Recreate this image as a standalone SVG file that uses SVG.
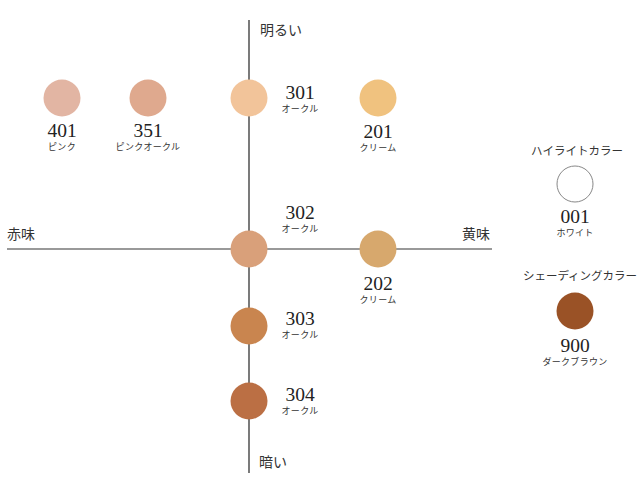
<svg xmlns="http://www.w3.org/2000/svg" width="640" height="498" viewBox="0 0 640 498">
<style>
.num{font-family:"Liberation Serif","Noto Sans CJK JP",serif;font-size:19.5px;fill:#222;text-anchor:middle}
.sub{font-family:"Noto Sans CJK JP",sans-serif;font-size:9px;fill:#333;text-anchor:middle;letter-spacing:0.3px}
.ax{font-family:"Noto Sans CJK JP",sans-serif;font-size:14px;fill:#333}
.hd{font-family:"Noto Sans CJK JP",sans-serif;font-size:11.5px;fill:#333;text-anchor:middle}
</style>
<rect width="640" height="498" fill="#fff"/>
<g id="axes">
<line x1="7" y1="249" x2="492" y2="249" stroke="#777" stroke-width="1.5"/>
<line x1="249" y1="20" x2="249" y2="473" stroke="#333" stroke-width="1.3"/>
<text class="ax" x="260" y="35">明るい</text>
<text class="ax" x="259" y="467">暗い</text>
<text class="ax" x="7" y="239">赤味</text>
<text class="ax" x="462" y="239">黄味</text>
</g>
<g id="c401"><circle cx="62" cy="98" r="18.5" fill="#e2b5a3"/><text class="num" x="62" y="137">401</text><text class="sub" x="62" y="150">ピンク</text></g>
<g id="c351"><circle cx="148" cy="98" r="18.5" fill="#dfa98e"/><text class="num" x="148" y="137">351</text><text class="sub" x="148" y="150">ピンクオークル</text></g>
<g id="c301"><circle cx="249" cy="98" r="18.5" fill="#f2c49a"/><text class="num" x="300" y="99">301</text><text class="sub" x="300" y="112">オークル</text></g>
<g id="c201"><circle cx="378" cy="98" r="18.5" fill="#f0c27f"/><text class="num" x="378" y="138">201</text><text class="sub" x="378" y="151">クリーム</text></g>
<g id="c302"><circle cx="249" cy="249" r="18.5" fill="#d9a07a"/><text class="num" x="300" y="219">302</text><text class="sub" x="300" y="232">オークル</text></g>
<g id="c202"><circle cx="378" cy="249" r="18.5" fill="#d7a86d"/><text class="num" x="378" y="290">202</text><text class="sub" x="378" y="303">クリーム</text></g>
<g id="c303"><circle cx="249" cy="326" r="18.5" fill="#c9854f"/><text class="num" x="300" y="325">303</text><text class="sub" x="300" y="338">オークル</text></g>
<g id="c304"><circle cx="249" cy="401" r="18.5" fill="#bb6f44"/><text class="num" x="300" y="401">304</text><text class="sub" x="300" y="414">オークル</text></g>
<g id="c001"><text class="hd" x="577" y="155">ハイライトカラー</text><circle cx="575" cy="184" r="18" fill="#fff" stroke="#888" stroke-width="1"/><text class="num" x="575" y="223">001</text><text class="sub" x="575" y="236">ホワイト</text></g>
<g id="c900"><text class="hd" x="580" y="280">シェーディングカラー</text><circle cx="575" cy="311" r="18.5" fill="#9a5226"/><text class="num" x="575" y="352">900</text><text class="sub" x="575" y="365">ダークブラウン</text></g>
</svg>
